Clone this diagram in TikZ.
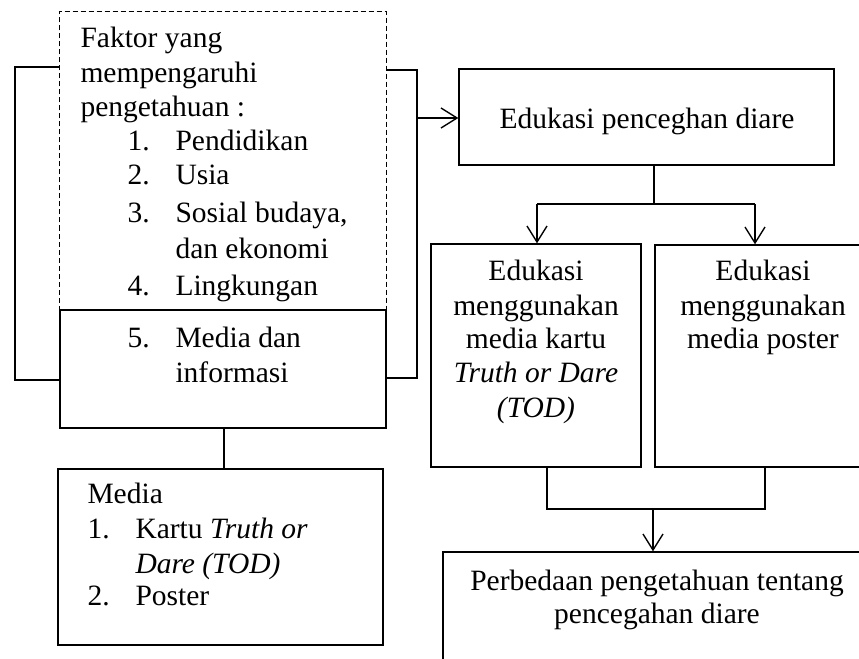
\documentclass[tikz,border=0pt]{standalone}
\usepackage{fontspec}
\setmainfont{Liberation Serif}
\usetikzlibrary{fit,arrows.meta}
\begin{document}
\begin{tikzpicture}[x=0.4pt,y=-0.4pt,
  font=\fontsize{11.8pt}{14.2pt}\selectfont,
  ln/.style={line width=0.55pt},
  box/.style={draw,line width=0.55pt,inner sep=0pt},
  ghost/.style={inner sep=0pt},
  txt/.style={inner sep=0pt,anchor=base west},
  ctxt/.style={inner sep=0pt,anchor=base},
  arr/.style={line width=0.55pt,-{Straight Barb[length=6.4pt,width=8pt,line width=0.55pt]}}]
\useasboundingbox (0,0) rectangle (859,659);
\clip (0,0) rectangle (859,659);
% left group
\node[ghost,fit={(60,12) (386,310)}] (fak) {};
\draw[ln,dash pattern=on 2pt off 1.2pt] (fak.south west) -- (fak.north west) -- (fak.north east) -- (fak.south east);
\node[box,fit={(60,310) (386,428)}] (med5) {};
\node[box,fit={(58,469) (383,645)}] (media) {};
% right group
\node[box,fit={(459,69) (834,165)}] (edu) {};
\node[box,fit={(431,244) (641,467)}] (tod) {};
\node[box,fit={(655,245) (871,467)}] (pos) {};
\node[box,fit={(443,552) (871,720)}] (beda) {};
% texts left
\node[txt] (t1) at (80,48) {Faktor yang};
\node[txt] (t2) at (80,83) {mempengaruhi};
\node[txt] (t3) at (80,117) {pengetahuan :};
\node[txt] (n1) at (127,150) {1.};
\node[txt] (i1) at (175,150) {Pendidikan};
\node[txt] (n2) at (127,185) {2.};
\node[txt] (i2) at (175,185) {Usia};
\node[txt] (n3) at (127,222) {3.};
\node[txt] (i3) at (175,222) {Sosial budaya,};
\node[txt] (i3b) at (175,258) {dan ekonomi};
\node[txt] (n4) at (127,295) {4.};
\node[txt] (i4) at (175,295) {Lingkungan};
\node[txt] (n5) at (127,347) {5.};
\node[txt] (i5) at (175,347) {Media dan};
\node[txt] (i5b) at (175,382) {informasi};
% media box texts
\node[txt] (m0) at (87,503) {Media};
\node[txt] (mn1) at (87,538) {1.};
\node[txt] (m1) at (135,538) {Kartu \textit{Truth or}};
\node[txt] (m1b) at (135,573) {\textit{Dare (TOD)}};
\node[txt] (mn2) at (87,605) {2.};
\node[txt] (m2) at (135,605) {Poster};
% right texts
\node[ctxt] (e1) at (647,128) {Edukasi penceghan diare};
\node[ctxt] (a1) at (536,280) {Edukasi};
\node[ctxt] (a2) at (536,315) {menggunakan};
\node[ctxt] (a3) at (536,348) {media kartu};
\node[ctxt] (a4) at (536,382) {\textit{Truth or Dare}};
\node[ctxt] (a5) at (536,417) {\textit{(TOD)}};
\node[ctxt] (b1) at (763,280) {Edukasi};
\node[ctxt] (b2) at (763,315) {menggunakan};
\node[ctxt] (b3) at (763,348) {media poster};
\node[ctxt] (c1) at (657,590) {Perbedaan pengetahuan tentang};
\node[ctxt] (c2) at (657,623) {pencegahan diare};
% connectors
\draw[ln] (fak.west |- 0,67) -- (15,67) -- (15,380) -- (med5.west |- 0,380);
\draw[ln] (fak.east |- 0,70) -- (417,70) -- (417,378) -- (med5.east |- 0,378);
\draw[arr] (417,118) -- (edu.west |- 0,118);
\draw[ln] (med5.south -| 224,0) -- (media.north -| 224,0);
\draw[ln] (edu.south -| 654,0) -- (654,204);
\draw[ln] (537,204) -- (755,204);
\draw[arr] (537,204) -- (tod.north -| 537,0);
\draw[arr] (755,204) -- (pos.north -| 755,0);
\draw[ln] (tod.south -| 547,0) -- (547,509) -- (765,509) -- (pos.south -| 765,0);
\draw[arr] (653,509) -- (beda.north -| 653,0);
\end{tikzpicture}
\end{document}
